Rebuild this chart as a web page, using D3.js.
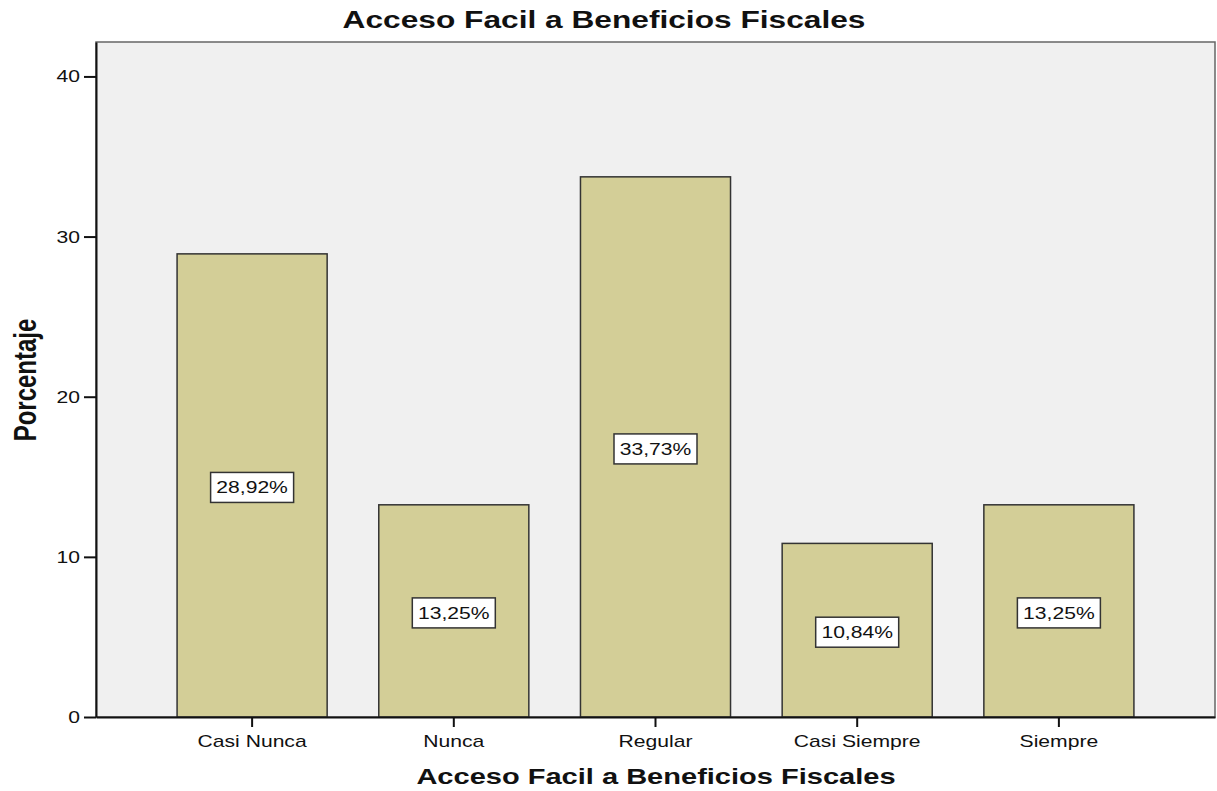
<!DOCTYPE html>
<html>
<head>
<meta charset="utf-8">
<script src="https://cdn.jsdelivr.net/npm/d3@7"></script>
<style>
  body { margin: 0; background: #fff; }
  text { font-family: Arial, "Liberation Sans", sans-serif; fill: #111; }
</style>
</head>
<body>
<div id="chart"></div>
<script>
var categories = ["Casi Nunca", "Nunca", "Regular", "Casi Siempre", "Siempre"];
var values = [28.92, 13.25, 33.73, 10.84, 13.25];
var labels = ["28,92%", "13,25%", "33,73%", "10,84%", "13,25%"];
var yTicks = [0, 10, 20, 30, 40];

var W = 1217, H = 791;
var mLeft = 96, mRight = 1215, mTop = 42, mBottom = 717;
var SX = 1.32; // the original picture is stretched sideways

var svg = d3.select("#chart").append("svg")
  .attr("width", W).attr("height", H);

var x = d3.scaleBand().domain(categories).range([mLeft, mRight])
  .paddingInner(0.256).paddingOuter(0.402);
var y = d3.scaleLinear().domain([0, 42.15]).range([mBottom, mTop]);

// text drawn with horizontal stretch
function wideText(parent, px, py, str, size, weight, anchor) {
  var g = parent.append("g").attr("transform", "translate(" + px + "," + py + ") scale(" + SX + ",1)");
  g.append("text")
    .attr("text-anchor", anchor)
    .style("font-size", size + "px")
    .style("font-weight", weight)
    .text(str);
  return g;
}

// plot background
svg.append("rect")
  .attr("x", mLeft).attr("y", mTop)
  .attr("width", mRight - mLeft).attr("height", mBottom - mTop)
  .attr("fill", "#f0f0f0")
  .attr("stroke", "#666").attr("stroke-width", 1.5);

// bars
svg.append("g").selectAll("rect")
  .data(values)
  .enter().append("rect")
  .attr("x", function (d, i) { return x(categories[i]); })
  .attr("y", function (d) { return y(d); })
  .attr("width", x.bandwidth())
  .attr("height", function (d) { return y(0) - y(d); })
  .attr("fill", "#d3ce97")
  .attr("stroke", "#333").attr("stroke-width", 1.5);

// value labels in the middle of the bars
var labG = svg.append("g");
values.forEach(function (d, i) {
  var cx = x(categories[i]) + x.bandwidth() / 2, cy = y(d / 2) + 2;
  labG.append("rect")
    .attr("x", cx - 41.5).attr("y", cy - 15).attr("width", 83).attr("height", 30)
    .attr("fill", "#fff").attr("stroke", "#333").attr("stroke-width", 1.5);
  wideText(labG, cx, cy + 6, labels[i], 16, "normal", "middle");
});

// axes (lines from d3, labels drawn stretched)
var yAxis = d3.axisLeft(y).tickValues(yTicks).tickSize(12).tickSizeOuter(0).tickFormat("");
var gy = svg.append("g").attr("transform", "translate(" + mLeft + ",0)").call(yAxis);
gy.select(".domain").attr("stroke", "#111").attr("stroke-width", 2);
gy.selectAll(".tick line").attr("stroke", "#111").attr("stroke-width", 2);
yTicks.forEach(function (t) {
  wideText(svg, 80, y(t) + 6, String(t), 16, "normal", "end");
});

var xAxis = d3.axisBottom(x).tickSize(10).tickSizeOuter(0).tickFormat("");
var gx = svg.append("g").attr("transform", "translate(0," + mBottom + ")").call(xAxis);
gx.select(".domain").attr("stroke", "#111").attr("stroke-width", 2);
gx.selectAll(".tick line").attr("stroke", "#111").attr("stroke-width", 2);
categories.forEach(function (c) {
  wideText(svg, x(c) + x.bandwidth() / 2, 747, c, 16, "normal", "middle");
});

// titles
wideText(svg, 604, 28, "Acceso Facil a Beneficios Fiscales", 24, "bold", "middle");
wideText(svg, 656, 784, "Acceso Facil a Beneficios Fiscales", 22, "bold", "middle");

svg.append("text")
  .attr("transform", "translate(36,380) rotate(-90) scale(1," + SX + ")")
  .attr("text-anchor", "middle")
  .style("font-size", "24px").style("font-weight", "bold")
  .text("Porcentaje");
</script>
</body>
</html>
